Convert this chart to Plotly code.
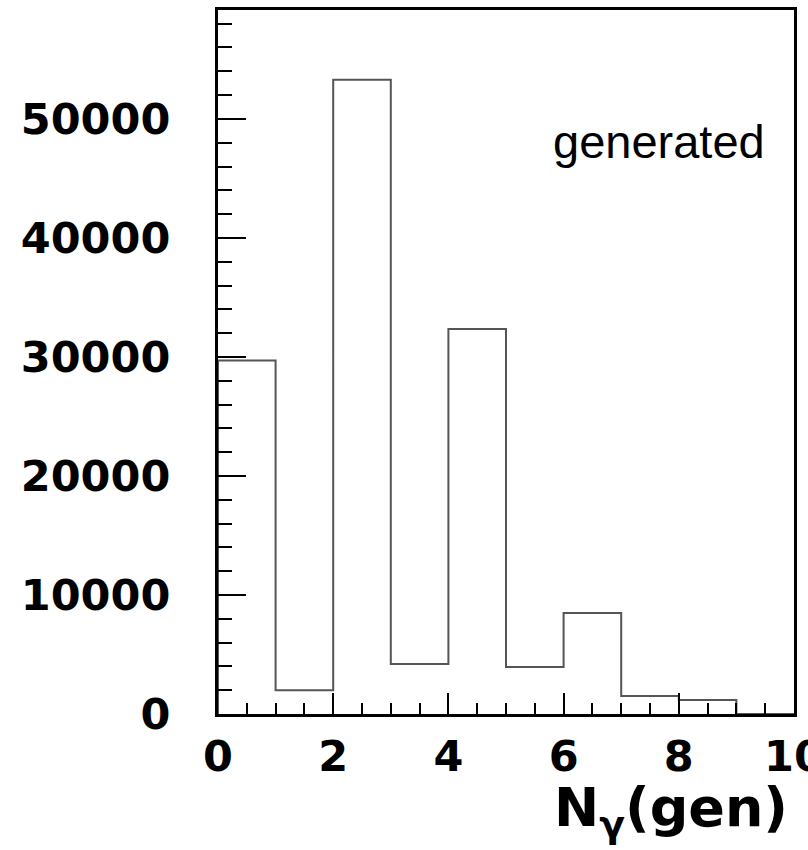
import plotly.graph_objects as go

# Histogram data
bin_edges = [0, 1, 2, 3, 4, 5, 6, 7, 8, 9, 10]
counts = [29700, 2000, 53300, 4200, 32350, 3950, 8490, 1510, 1180, 0]

x_ticks = [0, 2, 4, 6, 8, 10]
x_tick_text = ["0", "2", "4", "6", "8", "10"]
y_ticks = [0, 10000, 20000, 30000, 40000, 50000]
y_tick_text = ["0", "10000", "20000", "30000", "40000", "50000"]

label_text = "generated"
x_title = "<b>N<sub>γ</sub>(gen)</b>"

# step outline built from edges and counts
xs = [bin_edges[0]] + list(bin_edges[:-1]) + [bin_edges[-1]]
ys = [0] + list(counts) + [counts[-1]]

fig = go.Figure()
fig.add_trace(go.Scatter(
    x=xs, y=ys, mode="lines", line_shape="hv",
    line=dict(color="#555555", width=2), hoverinfo="skip", showlegend=False,
))

tick_font = dict(family="DejaVu Sans", size=43, color="black", weight="bold")

fig.update_layout(
    width=808, height=850,
    margin=dict(l=218, r=14, t=10, b=136, autoexpand=False),
    paper_bgcolor="white", plot_bgcolor="white",
    showlegend=False,
    xaxis=dict(
        range=[0, 10], tickvals=x_ticks, ticktext=x_tick_text,
        showgrid=False, zeroline=False, automargin=False,
        showline=True, linecolor="black", linewidth=3, mirror=True,
        ticks="inside", ticklen=21, tickwidth=2, tickcolor="black",
        minor=dict(dtick=0.5, ticks="inside", ticklen=11, tickwidth=2, tickcolor="black", showgrid=False),
        tickfont=tick_font, ticklabelstandoff=2, ticklabeloverflow="allow",
    ),
    yaxis=dict(
        range=[0, 59150], tickvals=y_ticks, ticktext=y_tick_text,
        showgrid=False, zeroline=False, automargin=False,
        showline=True, linecolor="black", linewidth=3, mirror=True,
        ticks="inside", ticklen=28, tickwidth=2, tickcolor="black",
        minor=dict(dtick=2000, ticks="inside", ticklen=14, tickwidth=2, tickcolor="black", showgrid=False),
        tickfont=tick_font, ticklabelstandoff=36, ticklabeloverflow="allow",
    ),
    annotations=[
        dict(text=label_text, xref="paper", yref="paper", x=0.578, y=0.813,
             xanchor="left", yanchor="middle", showarrow=False,
             font=dict(family="Liberation Sans", size=47, color="black")),
        dict(text=x_title, xref="paper", yref="paper", x=0.993, y=-0.138,
             xanchor="right", yanchor="middle", showarrow=False,
             font=dict(family="DejaVu Sans", size=54, color="black")),
    ],
)

fig.write_html("out.html")
